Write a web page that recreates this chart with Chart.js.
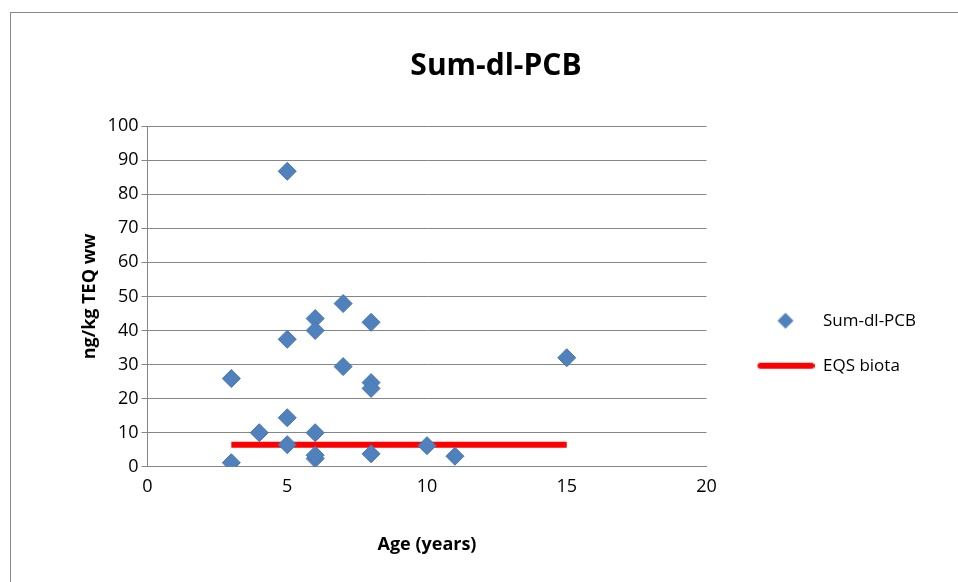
<!DOCTYPE html>
<html>
<head>
<meta charset="utf-8">
<script src="https://cdn.jsdelivr.net/npm/chart.js@4"></script>
<style>
  body { margin: 0; background: #fff; }
  #frame { position: absolute; left: 10px; top: 12px; width: 960px; height: 590px; border: 1.5px solid #888; box-sizing: border-box; }
  #wrap { position: absolute; left: 0; top: 0; width: 958px; height: 582px; }
</style>
</head>
<body>
<div id="frame"></div>
<div id="wrap"><canvas id="chart"></canvas></div>
<script>
var ages = [5, 7, 6, 8, 6, 5, 15, 7, 3, 8, 8, 5, 4, 6, 5, 10, 8, 11, 6, 6, 3];
var teq = [86.7, 47.9, 43.5, 42.4, 40, 37.4, 32, 29.4, 25.9, 24.7, 23, 14.4, 10, 10, 6.5, 6.2, 3.8, 3.1, 2.4, 3.4, 1.2];
var eqsAges = [3, 15];
var eqsValue = [6.5, 6.5];

var points = ages.map(function(a, i) { return { x: a, y: teq[i] }; });
var eqs = eqsAges.map(function(a, i) { return { x: a, y: eqsValue[i] }; });

var font = "'Open Sans', 'Noto Sans', sans-serif";
Chart.defaults.font.family = font;
Chart.defaults.color = '#000';

// legend symbols, same width for both entries
function legendIcon(kind) {
  var c = document.createElement('canvas');
  c.width = 80; c.height = 20;
  var g = c.getContext('2d');
  if (kind === 'diamond') {
    g.fillStyle = '#4f81bd';
    g.beginPath();
    g.moveTo(51, 2); g.lineTo(59, 10); g.lineTo(51, 18); g.lineTo(43, 10);
    g.closePath(); g.fill();
  } else {
    g.strokeStyle = '#ff0000'; g.lineWidth = 6; g.lineCap = 'round';
    g.beginPath(); g.moveTo(26, 10); g.lineTo(77, 10); g.stroke();
  }
  return c;
}

new Chart(document.getElementById('chart'), {
  type: 'scatter',
  data: {
    datasets: [{
      label: 'Sum-dl-PCB',
      data: points,
      pointStyle: 'rectRot',
      pointRadius: 9,
      backgroundColor: '#4f81bd',
      borderColor: '#4a76ad',
      borderWidth: 1
    }, {
      label: 'EQS biota',
      type: 'line',
      data: eqs,
      borderColor: '#ff0000',
      backgroundColor: '#ff0000',
      borderWidth: 6,
      pointRadius: 0,
      showLine: true
    }]
  },
  options: {
    responsive: true,
    maintainAspectRatio: false,
    animation: false,
    layout: { padding: { left: 75, right: 41, top: 48, bottom: 22 } },
    plugins: {
      title: { display: true, text: 'Sum-dl-PCB', font: { size: 30, weight: 'bold' }, padding: { top: 0, bottom: 42 } },
      legend: {
        position: 'right',
        title: { display: true, text: ' ', font: { size: 17 }, padding: { top: 0, bottom: 58 } },
        labels: {
          font: { size: 17 }, padding: 28, usePointStyle: true,
          pointStyleWidth: 80, boxHeight: 20,
          generateLabels: function(chart) {
            return [
              { text: 'Sum-dl-PCB', pointStyle: legendIcon('diamond'), datasetIndex: 0 },
              { text: 'EQS biota', pointStyle: legendIcon('line'), datasetIndex: 1 }
            ];
          }
        }
      }
    },
    scales: {
      x: {
        min: 0, max: 20,
        ticks: { stepSize: 5, font: { size: 18 } },
        grid: { display: false, tickLength: 6 },
        border: { color: '#868686' },
        title: { display: true, text: 'Age (years)', font: { size: 18, weight: 'bold' }, padding: { top: 34 } }
      },
      y: {
        min: 0, max: 100,
        ticks: { stepSize: 10, font: { size: 18 } },
        grid: { color: '#868686', tickLength: 6 },
        border: { color: '#868686' },
        title: { display: true, text: 'ng/kg TEQ ww', font: { size: 18, weight: 'bold' } }
      }
    }
  }
});
</script>
</body>
</html>
